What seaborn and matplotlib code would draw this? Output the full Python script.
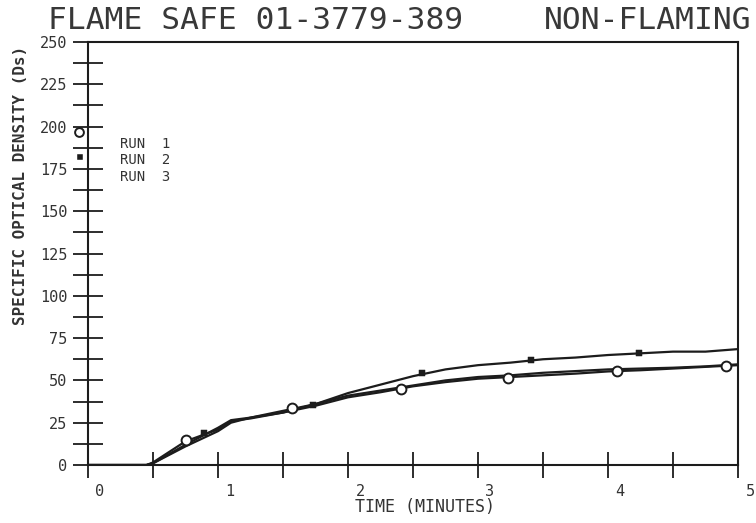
import numpy as np
import pandas as pd
import matplotlib
matplotlib.use("Agg")
import matplotlib.pyplot as plt
import matplotlib.transforms as mtransforms
import seaborn as sns

# Smoke density curves
time_min = [0.0, 0.25, 0.45, 0.5, 0.75, 1.0, 1.1, 1.25, 1.5, 1.75, 2.0, 2.25,
            2.5, 2.75, 3.0, 3.25, 3.5, 3.75, 4.0, 4.25, 4.5, 4.75, 5.0]
run1 = [0, 0, 0, 1.5, 14, 21, 26, 27.5, 31, 35, 40, 43,
        46.5, 49, 51, 52, 53, 54, 55.3, 56, 57, 58, 59]
run2 = [0, 0, 0, 1, 11, 20, 25, 28, 31, 36, 42.5, 47.5,
        52.5, 56.5, 59, 60.5, 62.5, 63.5, 65, 66, 67, 67, 68.5]
run3 = [0, 0, 0, 1, 12, 22, 26.5, 28, 32, 36, 41, 44,
        47, 50, 52, 53, 54.5, 55.5, 56.5, 57, 57.5, 58.3, 59.5]

# plotted symbols
run1_mark_t = [0.75, 1.57, 2.41, 3.23, 4.07, 4.91]
run1_mark_y = [14.5, 33.5, 45, 51.5, 55.6, 58.5]
run2_mark_t = [0.89, 1.73, 2.57, 3.41, 4.24]
run2_mark_y = [19, 35.5, 54.4, 62, 66]

run_names = ["RUN  1", "RUN  2", "RUN  3"]
title_left = "FLAME SAFE 01-3779-389"
title_right = "NON-FLAMING"

sns.set_theme(style="white")
plt.rcParams['font.family'] = ['DejaVu Sans Mono', 'DejaVu Sans']

df = pd.DataFrame({
    "t": time_min * 3,
    "ds": run1 + run2 + run3,
    "run": [run_names[0]] * len(time_min) + [run_names[1]] * len(time_min)
           + [run_names[2]] * len(time_min),
})

fig = plt.figure(figsize=(7.56, 5.23), dpi=100)
ax = fig.add_axes([88 / 756, 1 - 465 / 523, 650 / 756, 423 / 523])

ink = "#1c1c1c"
txt = "#333333"
sns.lineplot(data=df, x="t", y="ds", units="run", estimator=None, ax=ax,
             color=ink, linewidth=1.6, legend=False)
sns.scatterplot(x=run1_mark_t, y=run1_mark_y, ax=ax, marker="o", s=50,
                facecolor="white", edgecolor=ink, linewidth=1.4, zorder=5)
sns.scatterplot(x=run2_mark_t, y=run2_mark_y, ax=ax, marker="s", s=20,
                color=ink, edgecolor=ink, zorder=5)

ax.set_xlim(0, 5)
ax.set_ylim(0, 250)
xt = np.arange(0, 5.01, 0.5)
ax.set_xticks(xt)
ax.set_xticklabels([str(int(v)) if v == int(v) else "" for v in xt])
ax.set_yticks(np.arange(0, 251, 25))
ax.set_yticks(np.arange(12.5, 250, 25), minor=True)
ax.tick_params(axis="y", which="both", left=True, direction="inout", length=22,
               width=1.3, color=ink, labelsize=11, pad=4, labelcolor=txt)
ax.tick_params(axis="x", bottom=True, direction="inout", length=19, width=1.3,
               color=ink, labelsize=11, pad=4, labelcolor=txt)
# plotter wrote the minute labels a little to the right of the ticks
offset = mtransforms.ScaledTranslation(12 / 100, 0, fig.dpi_scale_trans)
for lab in ax.get_xticklabels():
    lab.set_transform(lab.get_transform() + offset)

for s in ax.spines.values():
    s.set_color(ink)
    s.set_linewidth(1.5)

ax.set_xlabel("TIME (MINUTES)", fontsize=12, color=txt)
ax.xaxis.set_label_coords(0.518, -0.1)
ax.xaxis.label.set_va("center")
ax.set_ylabel("SPECIFIC OPTICAL DENSITY (Ds)", fontsize=11.5, color=txt,
              fontweight="bold")
ax.yaxis.set_label_coords(-0.093, 0.66)

fig.text(48 / 756, 1 - 29 / 523, title_left, fontsize=22.5, color="#383838",
         va="baseline", ha="left")
fig.text(752 / 756, 1 - 29 / 523, title_right, fontsize=22.5, color="#383838",
         va="baseline", ha="right")

# hand-placed key like the plotter drew it
sns.scatterplot(x=[-0.07], y=[197], ax=ax, marker="o", s=40, facecolor="white",
                edgecolor=ink, linewidth=1.4, clip_on=False, zorder=6)
sns.scatterplot(x=[-0.06], y=[182], ax=ax, marker="s", s=14, color=ink,
                clip_on=False, zorder=6)
for name, yv in zip(run_names, [190, 180, 170]):
    ax.text(0.245, yv, name, fontsize=10, color=txt, va="center")

fig.savefig("out.png", dpi=100, facecolor="white")
